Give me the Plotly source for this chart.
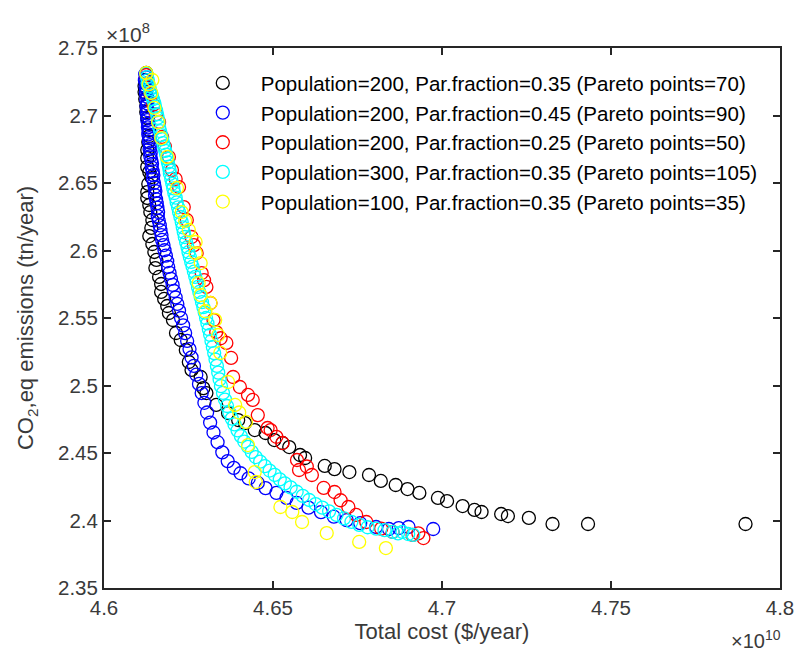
import plotly.graph_objects as go

# ---- data (cost in 1e10 $/year, emissions in 1e8 tn/year) ----
names = [
    "Population=200, Par.fraction=0.35 (Pareto points=70)",
    "Population=200, Par.fraction=0.45 (Pareto points=90)",
    "Population=200, Par.fraction=0.25 (Pareto points=50)",
    "Population=300, Par.fraction=0.35 (Pareto points=105)",
    "Population=100, Par.fraction=0.35 (Pareto points=35)",
]
colors = ["#000000", "#0000FF", "#FF0000", "#00FFFF", "#FFFF00"]

black_x = [4.6125, 4.6122, 4.6120, 4.6120, 4.6122, 4.6125, 4.6125, 4.6128, 4.6131, 4.6134,
           4.6134, 4.6131, 4.6128, 4.6128, 4.6128, 4.6134, 4.6140, 4.6131, 4.6128, 4.6128,
           4.6134, 4.6137, 4.6143, 4.6140, 4.6134, 4.6143, 4.6149, 4.6155, 4.6152, 4.6163,
           4.6169, 4.6169, 4.6178, 4.6187, 4.6192, 4.6204, 4.6213, 4.6227, 4.6242, 4.6251,
           4.6259, 4.6286, 4.6294, 4.6303, 4.6332, 4.6367, 4.6397, 4.6417, 4.6446, 4.6478,
           4.6504, 4.6528, 4.6548, 4.6580, 4.6595, 4.6653, 4.6682, 4.6726, 4.6784, 4.6819,
           4.6863, 4.6898, 4.6933, 4.6988, 4.7015, 4.7061, 4.7096, 4.7117, 4.7175, 4.7195,
           4.7257, 4.7327, 4.7432, 4.7898]
black_y = [2.7315, 2.7263, 2.7219, 2.7174, 2.7122, 2.7070, 2.7026, 2.6981, 2.6937, 2.6893,
           2.6848, 2.6804, 2.6744, 2.6685, 2.6619, 2.6581, 2.6544, 2.6493, 2.6433, 2.6389,
           2.6337, 2.6285, 2.6226, 2.6167, 2.6107, 2.6048, 2.5989, 2.5930, 2.5870, 2.5804,
           2.5752, 2.5693, 2.5641, 2.5589, 2.5537, 2.5485, 2.5389, 2.5337, 2.5263, 2.5174,
           2.5115, 2.5063, 2.4981, 2.4944, 2.4856, 2.4796, 2.4744, 2.4722, 2.4670, 2.4648,
           2.4596, 2.4574, 2.4544, 2.4485, 2.4463, 2.4404, 2.4381, 2.4359, 2.4337, 2.4293,
           2.4263, 2.4233, 2.4204, 2.4167, 2.4144, 2.4107, 2.4078, 2.4063, 2.4048, 2.4033,
           2.4019, 2.3974, 2.3974, 2.3974]

blue_x = [4.6122, 4.6125, 4.6121, 4.6124, 4.6123, 4.6126, 4.6124, 4.6127, 4.6125, 4.6128,
          4.6126, 4.6129, 4.6127, 4.6130, 4.6128, 4.6131, 4.6130, 4.6132, 4.6131, 4.6134,
          4.6133, 4.6136, 4.6135, 4.6138, 4.6137, 4.6140, 4.6142, 4.6141, 4.6144, 4.6146,
          4.6145, 4.6148, 4.6150, 4.6152, 4.6151, 4.6154, 4.6156, 4.6158, 4.6160, 4.6159,
          4.6162, 4.6165, 4.6167, 4.6170, 4.6172, 4.6176, 4.6179, 4.6183, 4.6187, 4.6190,
          4.6194, 4.6198, 4.6203, 4.6207, 4.6212, 4.6217, 4.6222, 4.6228, 4.6234, 4.6240,
          4.6246, 4.6253, 4.6259, 4.6266, 4.6273, 4.6281, 4.6289, 4.6297, 4.6305, 4.6314,
          4.6324, 4.6336, 4.6350, 4.6366, 4.6384, 4.6404, 4.6428, 4.6455, 4.6478, 4.6510,
          4.6540, 4.6570, 4.6605, 4.6642, 4.6680, 4.6718, 4.6758, 4.6805, 4.6843, 4.6872,
          4.6901, 4.6974]
blue_y = [2.7305, 2.7282, 2.7260, 2.7236, 2.7212, 2.7190, 2.7165, 2.7140, 2.7116, 2.7090,
          2.7066, 2.7040, 2.7015, 2.6990, 2.6965, 2.6938, 2.6912, 2.6885, 2.6860, 2.6832,
          2.6806, 2.6780, 2.6752, 2.6725, 2.6698, 2.6670, 2.6642, 2.6615, 2.6586, 2.6558,
          2.6530, 2.6500, 2.6470, 2.6440, 2.6410, 2.6380, 2.6350, 2.6318, 2.6286, 2.6254,
          2.6220, 2.6186, 2.6150, 2.6114, 2.6078, 2.6040, 2.6002, 2.5962, 2.5920, 2.5878,
          2.5834, 2.5790, 2.5745, 2.5700, 2.5652, 2.5604, 2.5555, 2.5500, 2.5445, 2.5388,
          2.5330, 2.5270, 2.5208, 2.5145, 2.5080, 2.5012, 2.4944, 2.4872, 2.4800, 2.4725,
          2.4652, 2.4580, 2.4505, 2.4440, 2.4390, 2.4350, 2.4312, 2.4278, 2.4240, 2.4205,
          2.4168, 2.4130, 2.4095, 2.4062, 2.4028, 2.4003, 2.3980, 2.3952, 2.3937, 2.3944,
          2.3952, 2.3937]

red_x = [4.6125, 4.6130, 4.6138, 4.6146, 4.6155, 4.6163, 4.6172, 4.6180, 4.6192, 4.6201,
         4.6212, 4.6222, 4.6236, 4.6245, 4.6259, 4.6266, 4.6274, 4.6289, 4.6296, 4.6303,
         4.6315, 4.6324, 4.6332, 4.6345, 4.6362, 4.6376, 4.6382, 4.6402, 4.6426, 4.6440,
         4.6455, 4.6484, 4.6493, 4.6510, 4.6528, 4.6571, 4.6577, 4.6600, 4.6615, 4.6650,
         4.6682, 4.6700, 4.6723, 4.6746, 4.6776, 4.6820, 4.6854, 4.6913, 4.6945, 4.6930]
red_y = [2.7300, 2.7240, 2.7160, 2.7080, 2.7010, 2.6952, 2.6841, 2.6770, 2.6693, 2.6596,
         2.6530, 2.6470, 2.6322, 2.6226, 2.6100, 2.6040, 2.5981, 2.5833, 2.5780, 2.5730,
         2.5611, 2.5485, 2.5396, 2.5350, 2.5315, 2.5204, 2.5063, 2.4989, 2.4930, 2.4893,
         2.4781, 2.4685, 2.4670, 2.4620, 2.4574, 2.4448, 2.4374, 2.4400, 2.4337, 2.4241,
         2.4211, 2.4150, 2.4100, 2.4041, 2.3989, 2.3940, 2.3915, 2.3893, 2.3870, 2.3905]

cyan_x = [4.6125, 4.6127, 4.6130, 4.6129, 4.6133, 4.6136, 4.6138, 4.6142, 4.6145, 4.6149,
          4.6151, 4.6154, 4.6157, 4.6159, 4.6161, 4.6163, 4.6166, 4.6169, 4.6172, 4.6175,
          4.6178, 4.6181, 4.6184, 4.6187, 4.6189, 4.6192, 4.6194, 4.6195, 4.6199, 4.6202,
          4.6205, 4.6208, 4.6212, 4.6215, 4.6219, 4.6222, 4.6226, 4.6230, 4.6233, 4.6236,
          4.6239, 4.6243, 4.6247, 4.6250, 4.6254, 4.6258, 4.6262, 4.6266, 4.6270, 4.6274,
          4.6278, 4.6282, 4.6286, 4.6290, 4.6294, 4.6298, 4.6302, 4.6306, 4.6310, 4.6314,
          4.6318, 4.6322, 4.6326, 4.6330, 4.6334, 4.6338, 4.6342, 4.6346, 4.6352, 4.6358,
          4.6364, 4.6371, 4.6378, 4.6386, 4.6395, 4.6405, 4.6415, 4.6426, 4.6437, 4.6449,
          4.6462, 4.6476, 4.6490, 4.6505, 4.6520, 4.6535, 4.6552, 4.6570, 4.6588, 4.6607,
          4.6626, 4.6646, 4.6666, 4.6688, 4.6710, 4.6732, 4.6755, 4.6780, 4.6805, 4.6830,
          4.6854, 4.6870, 4.6883, 4.6900, 4.6915]
cyan_y = [2.7310, 2.7285, 2.7262, 2.7240, 2.7218, 2.7195, 2.7170, 2.7145, 2.7120, 2.7093,
          2.7065, 2.7038, 2.7010, 2.6982, 2.6950, 2.6915, 2.6885, 2.6855, 2.6825, 2.6796,
          2.6767, 2.6738, 2.6710, 2.6680, 2.6652, 2.6622, 2.6596, 2.6568, 2.6530, 2.6494,
          2.6460, 2.6426, 2.6392, 2.6356, 2.6320, 2.6285, 2.6248, 2.6210, 2.6172, 2.6135,
          2.6100, 2.6062, 2.6025, 2.5988, 2.5952, 2.5915, 2.5880, 2.5843, 2.5805, 2.5768,
          2.5730, 2.5693, 2.5655, 2.5617, 2.5580, 2.5540, 2.5500, 2.5460, 2.5418, 2.5375,
          2.5330, 2.5285, 2.5240, 2.5192, 2.5145, 2.5095, 2.5045, 2.4995, 2.4945, 2.4895,
          2.4848, 2.4800, 2.4755, 2.4712, 2.4668, 2.4625, 2.4585, 2.4546, 2.4508, 2.4470,
          2.4436, 2.4403, 2.4370, 2.4338, 2.4305, 2.4275, 2.4245, 2.4213, 2.4182, 2.4152,
          2.4122, 2.4095, 2.4068, 2.4042, 2.4015, 2.3990, 2.3968, 2.3950, 2.3940, 2.3928,
          2.3915, 2.3905, 2.3915, 2.3900, 2.3893]

yellow_x = [4.6125, 4.6132, 4.6143, 4.6140, 4.6149, 4.6160, 4.6169, 4.6187, 4.6216, 4.6230,
            4.6240, 4.6251, 4.6271, 4.6271, 4.6286, 4.6280, 4.6286, 4.6300, 4.6315, 4.6329,
            4.6338, 4.6344, 4.6367, 4.6388, 4.6400, 4.6420, 4.6426, 4.6446, 4.6449, 4.6522,
            4.6557, 4.6586, 4.6659, 4.6755, 4.6834]
yellow_y = [2.7315, 2.7230, 2.7263, 2.7167, 2.7056, 2.6950, 2.6833, 2.6693, 2.6463, 2.6285,
            2.6220, 2.6152, 2.6063, 2.5981, 2.5907, 2.5759, 2.5670, 2.5550, 2.5611, 2.5485,
            2.5374, 2.5241, 2.5026, 2.4856, 2.4800, 2.4730, 2.4559, 2.4359, 2.4285, 2.4100,
            2.4063, 2.3989, 2.3907, 2.3841, 2.3796]

series_x = [black_x, blue_x, red_x, cyan_x, yellow_x]
series_y = [black_y, blue_y, red_y, cyan_y, yellow_y]

x_ticks = [4.6, 4.65, 4.7, 4.75, 4.8]
x_ticktext = ["4.6", "4.65", "4.7", "4.75", "4.8"]
y_ticks = [2.35, 2.4, 2.45, 2.5, 2.55, 2.6, 2.65, 2.7, 2.75]
y_ticktext = ["2.35", "2.4", "2.45", "2.5", "2.55", "2.6", "2.65", "2.7", "2.75"]

FONT = "Liberation Sans, Arial, sans-serif"
AX = "#262626"
TXT = "#3a3a3a"

fig = go.Figure()
for n, c, xs, ys in zip(names, colors, series_x, series_y):
    fig.add_trace(go.Scatter(
        x=xs, y=ys, mode="markers", name=n,
        marker=dict(symbol="circle-open", size=13, color=c, line=dict(width=1.3, color=c)),
    ))

axis_common = dict(
    showline=True, linecolor=AX, linewidth=2, mirror="ticks",
    ticks="inside", ticklen=7, tickwidth=1.5, tickcolor=AX,
    showgrid=False, zeroline=False,
    tickfont=dict(family=FONT, size=20.5, color=TXT),
)

fig.update_layout(
    width=806, height=653,
    margin=dict(l=104, r=16, t=48, b=65),
    paper_bgcolor="white", plot_bgcolor="white",
    font=dict(family=FONT, size=20, color=TXT),
    showlegend=True,
    legend=dict(x=0.1195, y=0.972, xanchor="left", yanchor="top",
                bgcolor="rgba(0,0,0,0)", font=dict(family=FONT, size=20.5, color="#000000"),
                itemwidth=66, tracegroupgap=0),
    xaxis=dict(range=[4.6, 4.8], tickvals=x_ticks, ticktext=x_ticktext,
               title=dict(text="Total cost ($/year)", font=dict(family=FONT, size=22, color=TXT),
                          standoff=6),
               **axis_common),
    yaxis=dict(range=[2.35, 2.75], tickvals=y_ticks, ticktext=y_ticktext,
               title=dict(text="CO<sub>2</sub>,eq emissions (tn/year)",
                          font=dict(family=FONT, size=22, color=TXT), standoff=18),
               **axis_common),
    annotations=[
        dict(text="×10<sup>8</sup>", xref="paper", yref="paper", x=0, y=1,
             xanchor="left", yanchor="bottom", showarrow=False,
             font=dict(family=FONT, size=21, color=TXT)),
        dict(text="×10<sup>10</sup>", xref="paper", yref="paper", x=1.005, y=-0.068,
             xanchor="right", yanchor="top", showarrow=False,
             font=dict(family=FONT, size=20, color=TXT)),
    ],
)

fig.write_html("out.html")
